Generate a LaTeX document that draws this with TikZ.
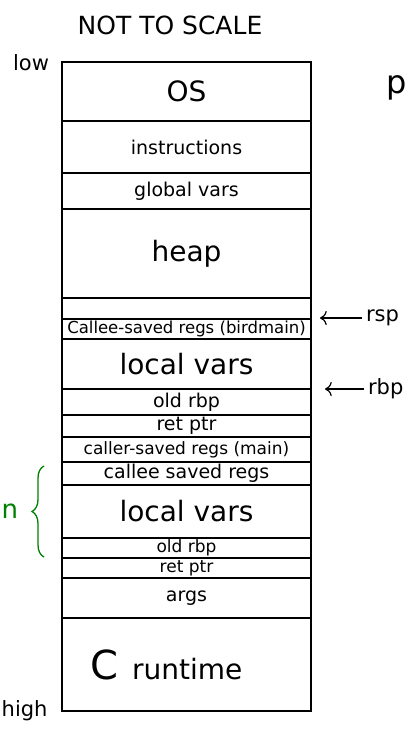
\documentclass[tikz,border=0pt]{standalone}
\usepackage{fontspec}
\setmainfont{DejaVu Sans}
\usetikzlibrary{decorations.pathreplacing,arrows.meta}

\begin{document}
\begin{tikzpicture}[
                x=1pt,y=-1pt,
                line width=1.4pt,
                slot/.style={draw,anchor=north,minimum width=249pt,inner sep=0pt,outer sep=0pt,font=\fontsize{19}{19}\selectfont},
                big/.style={font=\fontsize{28}{28}\selectfont},
                small/.style={font=\fontsize{17}{17}\selectfont},
                hand/.style={font=\fontsize{21}{21}\selectfont}] %

\useasboundingbox (0,0) rectangle (409,740);

% title
\node[font=\fontsize{25}{25}\selectfont] (TITLE) at (170,25) {NOT TO SCALE};
\node[hand] (LOW) at (31,63) {low};
\node[hand,anchor=west,inner sep=1pt] (HIGH) at (0,711) {high};
\node[font=\fontsize{32}{32}\selectfont,anchor=east,inner sep=1pt] (PCUT) at (409,88) {p};

                    % 1
                    \node[slot,minimum height=59pt,big] (OS) at (186.5,62) {OS};
                    \node[slot,minimum height=52pt] (INSTR) at (OS.south) {instructions};
                    \node[slot,minimum height=36pt] (GLOBALS) at (INSTR.south) {global vars};
                    \node[slot,minimum height=89pt,big] (HEAP) at (GLOBALS.south) {heap};
                    \node[slot,minimum height=21pt] (FREE) at (HEAP.south) {};

                    % 2
                    \node[slot,minimum height=20pt,font=\fontsize{16.5}{16.5}\selectfont] (CALLEEMAIN) at (FREE.south) {Callee-saved regs (birdmain)};
                    \node[slot,minimum height=50pt,big] (LOCALMAIN) at (CALLEEMAIN.south) {local vars};
                    \node[slot,minimum height=26pt] (OLDRBPMAIN) at (LOCALMAIN.south) {old rbp};
                    \node[slot,minimum height=22pt] (RETMAIN) at (OLDRBPMAIN.south) {ret ptr};
                    \node[slot,minimum height=25pt,small] (CALLER) at (RETMAIN.south) {caller-saved regs (main)};

                    % 3
                    \node[slot,minimum height=23pt] (CALLEE) at (CALLER.south) {callee saved regs};
                    \node[slot,minimum height=53pt,big] (LOCAL) at (CALLEE.south) {local vars};
                    \node[slot,minimum height=20pt,small] (OLDRBP) at (LOCAL.south) {old rbp};
                    \node[slot,minimum height=20pt,small] (RET) at (OLDRBP.south) {ret ptr};
                    \node[slot,minimum height=40pt] (ARGS) at (RET.south) {args};

                    % 4
                    \node[slot,minimum height=93pt,big] (CRUNTIME) at (ARGS.south) {{\fontsize{40}{40}\selectfont C}\, runtime\kern40pt\relax};

%%%%%%%%%%%%%%%%%%%%%%%%%%%%%%%%%%%%%%%%%%%%%%%%%%%%%%%%%%%%%%%%%%%%%%%%%%%%%%%%%%%%

% registers
\node[hand,anchor=west] (RSP) at (362,318) {rsp};
\coordinate (RSPTIP) at (320,318);
\path [line width=1.2pt, -{To[scale=1.6]}] (RSP.west) edge (RSPTIP);

\node[hand,anchor=west] (RBP) at (364,389) {rbp};
\coordinate (RBPTIP) at (325,389);
\path [line width=1.2pt, -{To[scale=1.6]}] (RBP.west) edge (RBPTIP);

% frame
\draw[green!50!black,line width=1.3pt,decoration={brace,amplitude=12pt},decorate]
  (44,557) -- (44,466);
\node[green!50!black,anchor=west,inner sep=1pt,font=\fontsize{26}{26}\selectfont] (N) at (0,511) {n};

\end{tikzpicture}
\end{document}
